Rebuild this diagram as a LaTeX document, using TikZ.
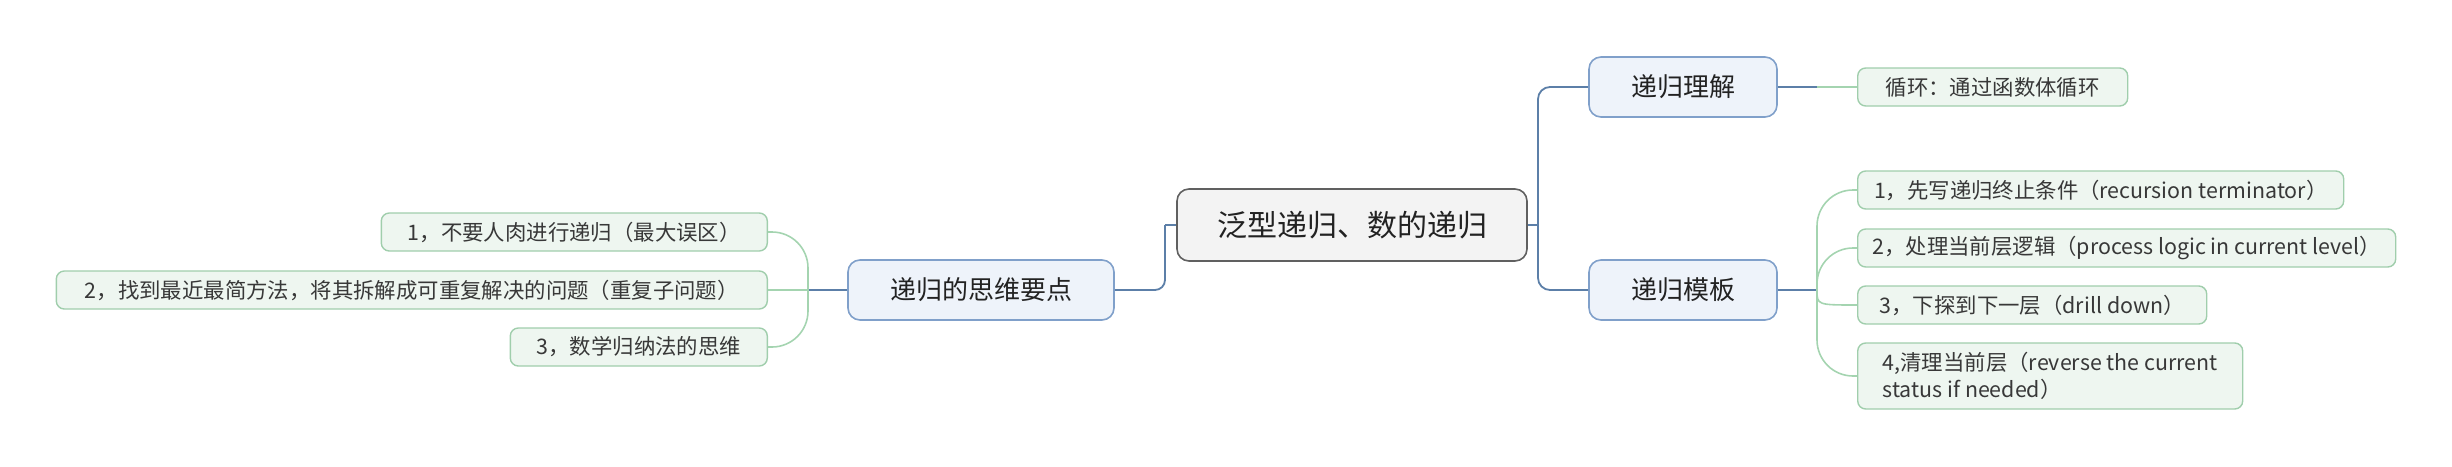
\documentclass[tikz,border=0pt]{standalone}
\usepackage{fontspec}
\setmainfont{Noto Sans CJK SC}
\usetikzlibrary{positioning}
\definecolor{trunkblue}{RGB}{92,127,168}
\definecolor{topicline}{RGB}{128,160,202}
\definecolor{topicfill}{RGB}{238,243,250}
\definecolor{leafline}{RGB}{160,206,172}
\definecolor{leaffill}{RGB}{238,246,240}
\definecolor{twiggreen}{RGB}{164,212,176}
\definecolor{rootline}{RGB}{96,96,96}
\definecolor{rootfill}{RGB}{243,243,243}
\definecolor{inkgray}{RGB}{34,34,34}

\begin{document}
\begin{tikzpicture}[
  x=0.5pt, y=-0.5pt,
  root/.style={
    draw=rootline,
    fill=rootfill,
    line width=0.8pt,
    rounded corners=6pt,
    minimum width=175pt,
    minimum height=36pt,
    text=inkgray,
    font=\fontsize{15}{18}\selectfont
  },
  topic/.style={
    draw=topicline,
    fill=topicfill,
    line width=0.8pt,
    rounded corners=6pt,
    minimum height=30pt,
    text=inkgray,
    font=\fontsize{13}{16}\selectfont
  },
  leaf/.style={
    draw=leafline,
    fill=leaffill,
    line width=0.7pt,
    rounded corners=4pt,
    minimum height=19pt,
    align=left,
    text=inkgray!90,
    font=\fontsize{10.7}{13.5}\selectfont
  },
  trunk/.style={draw=trunkblue, line width=0.9pt},
  twig/.style={draw=twiggreen, line width=0.8pt}
]
\useasboundingbox (0,0) rectangle (2452,466);

% Central topic
\node[root] (root) at (1352,225) {泛型递归、数的递归};

% Main topics
\node[topic, minimum width=133pt] (think) at (981,290) {递归的思维要点};
\node[topic, minimum width=94pt] (grasp) at (1683,87) {递归理解};
\node[topic, minimum width=94pt] (templ) at (1683,290) {递归模板};

% Right leaves
\node[leaf, minimum width=135pt, anchor=west] (loop) at (1857,87) {循环：通过函数体循环};
\node[leaf, minimum width=243pt, anchor=west] (step1) at (1857,190) {1，先写递归终止条件（recursion terminator）};
\node[leaf, minimum width=269pt, anchor=west] (step2) at (1857,248) {2，处理当前层逻辑（process logic in current level）};
\node[leaf, minimum width=174.5pt, anchor=west] (step3) at (1857,305) {3，下探到下一层（drill down）};
\node[leaf, minimum width=192.5pt, minimum height=33pt, anchor=west] (step4) at (1857,376)
  {4,清理当前层（reverse the current\\status if needed）};

% Left leaves
\node[leaf, minimum width=193pt, anchor=east] (tip1) at (768,232) {1，不要人肉进行递归（最大误区）};
\node[leaf, minimum width=355.5pt, anchor=east] (tip2) at (768,290) {2，找到最近最简方法，将其拆解成可重复解决的问题（重复子问题）};
\node[leaf, minimum width=128.5pt, anchor=east] (tip3) at (768,347) {3，数学归纳法的思维};

% Central topic to main topics
\coordinate (lj) at (1165,225);
\coordinate (rj) at (1538,225);
\draw[trunk] (root.west) -- (lj);
\draw[trunk, rounded corners=5pt] (lj) |- (think.east);
\draw[trunk] (root.east) -- (rj);
\draw[trunk, rounded corners=6pt] (rj) |- (grasp.west);
\draw[trunk, rounded corners=6pt] (rj) |- (templ.west);

% Main topics to leaves
\coordinate (gj) at (1817,87);
\draw[trunk] (grasp.east) -- (gj);
\draw[twig] (gj) -- (loop.west);

\coordinate (tj) at (1817,290);
\draw[trunk] (templ.east) -- (tj);
\draw[twig, rounded corners=18pt] (tj) |- (step1.west);
\draw[twig, rounded corners=18pt] (tj) |- (step2.west);
\draw[twig] (tj) .. controls (1817,305) .. (step3.west);
\draw[twig, rounded corners=18pt] (tj) |- (step4.west);

\coordinate (kj) at (808,290);
\draw[trunk] (think.west) -- (kj);
\draw[twig, rounded corners=18pt] (kj) |- (tip1.east);
\draw[twig] (kj) -- (tip2.east);
\draw[twig, rounded corners=18pt] (kj) |- (tip3.east);

\end{tikzpicture}
\end{document}
